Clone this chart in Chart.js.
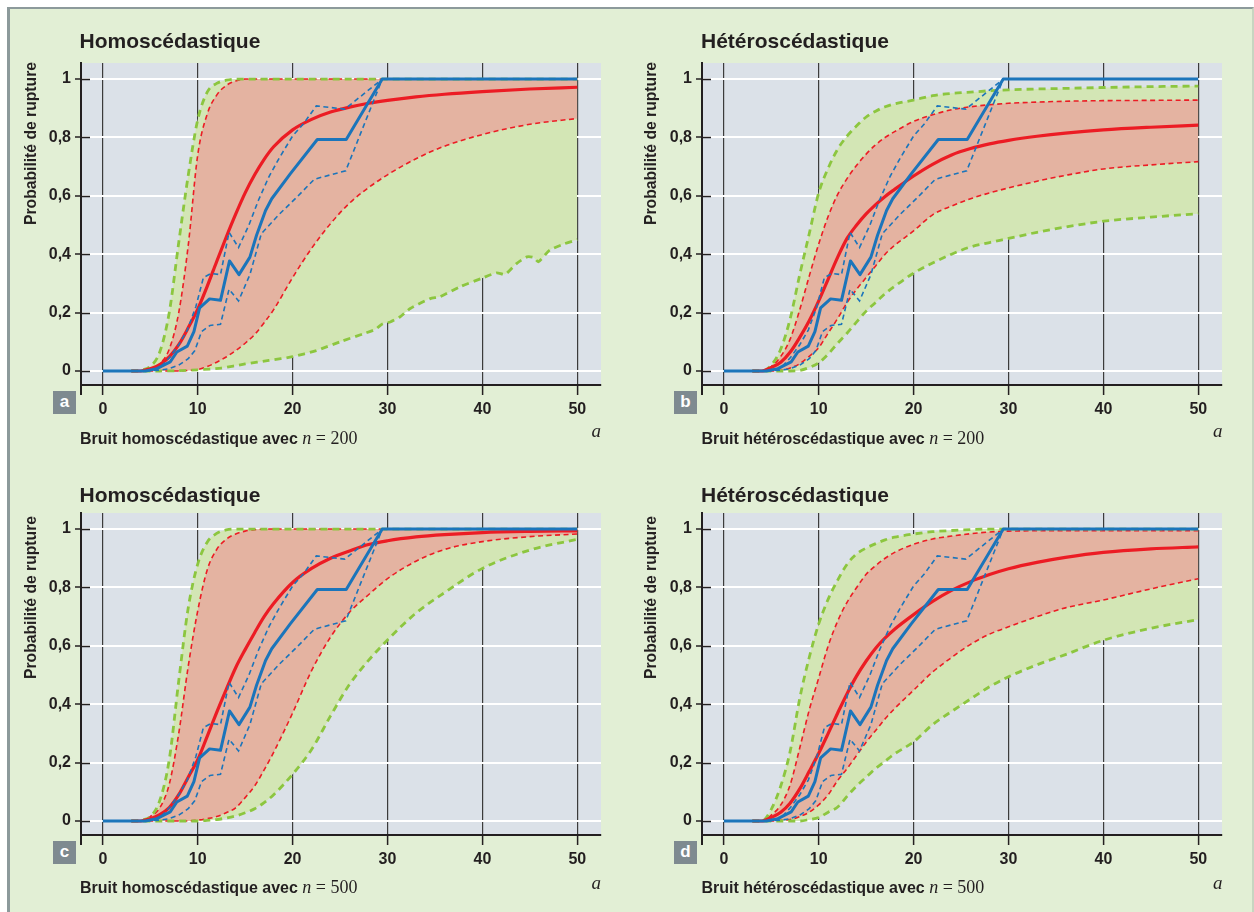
<!DOCTYPE html>
<html lang="fr">
<head>
<meta charset="utf-8">
<title>Probabilité de rupture</title>
<script src="https://cdn.jsdelivr.net/npm/chart.js@4.4.1/dist/chart.umd.min.js"></script>
<style>
  html,body{margin:0;padding:0;background:#fff;}
  body{position:relative;width:1254px;height:912px;overflow:hidden;font-family:"Liberation Sans",Arial,Helvetica,sans-serif;color:#231f20;}
  #frame{position:absolute;left:7px;top:7px;width:1242px;height:920px;background:#e2efd5;border-left:3px solid #8c9a9b;border-top:2px solid #8c9a9b;border-right:2px solid #c8d5c1;}
  canvas{position:absolute;}
  .txt{position:absolute;white-space:nowrap;}
  .title{font-weight:bold;font-size:21px;line-height:21px;}
  .ytitle{font-weight:bold;font-size:15.7px;line-height:16px;transform:rotate(-90deg);transform-origin:0 0;}
  .xtitle{font-weight:bold;font-size:16px;line-height:20px;}
  .math{font-family:"Liberation Serif","Times New Roman",serif;font-weight:normal;font-size:18px;}
  .math i{font-style:italic;}
  .avar{font-family:"Liberation Serif","Times New Roman",serif;font-style:italic;font-size:19px;line-height:20px;text-align:right;width:30px;}
  .tag{position:absolute;width:23px;height:23px;background:#7e8a90;color:#fff;font-weight:bold;font-size:17px;line-height:21px;text-align:center;}
</style>
</head>
<body>
<div id="frame"></div>
<script>
// ---------- data ----------
const TICKS_X = [0, 10, 20, 30, 40, 50];
const TICKS_Y = [0, 0.2, 0.4, 0.6, 0.8, 1];

// common abscissa grid for the model curves (a)
const X = [3,4,5,6,7,8,9,10,11,12,13,14,15,16,17,18,20,22,24,26,28,30,33,36,40,45,50];

// empirical curve (blue), identical in the four panels
const BLUE_X   = [0,4.5,5.7,7.1,7.8,8.9,9.6,10.2,11.25,12.4,13.35,14.35,15.5,16.2,17.15,17.8,19.75,22.6,25.65,29.45,50];
const BLUE_MID = [0,0,0.008,0.031,0.065,0.085,0.135,0.216,0.247,0.242,0.377,0.33,0.39,0.465,0.55,0.59,0.675,0.793,0.793,1,1];
const BLUE_HI_X = [4.5,6,7,8,8.9,9.8,10.6,11.4,12.4,13.3,14.3,15.4,16.4,17.5,18.6,20,21.1,22.5,25.5,29.45];
const BLUE_HI   = [0,0.01,0.045,0.09,0.14,0.22,0.32,0.334,0.33,0.475,0.423,0.5,0.585,0.665,0.73,0.805,0.845,0.908,0.897,1];
const BLUE_LO_X = [4.5,6,7,8,9,9.7,10.4,11.3,12.4,13.3,14.3,15.5,16.7,18.6,20.4,22.3,25.6,29.45];
const BLUE_LO   = [0,0.003,0.008,0.02,0.042,0.07,0.135,0.156,0.16,0.28,0.24,0.33,0.47,0.537,0.594,0.657,0.686,1];

// panel a : homoscédastique, n = 200
const A_RED_MID = [0,0,0.008,0.022,0.048,0.09,0.148,0.212,0.29,0.375,0.458,0.537,0.61,0.672,0.725,0.768,0.826,0.862,0.887,0.904,0.917,0.927,0.939,0.948,0.957,0.966,0.972];
const A_RED_HI  = [0,0,0.006,0.025,0.075,0.2,0.43,0.74,0.88,0.945,0.978,0.993,1,1,1,1,1,1,1,1,1,1,1,1,1,1,1];
const A_RED_LO  = [0,0,0,0,0,0,0.002,0.005,0.015,0.03,0.048,0.07,0.095,0.125,0.165,0.21,0.32,0.42,0.505,0.575,0.628,0.672,0.727,0.77,0.81,0.845,0.865];
const A_GREEN_HI = [0,0.003,0.015,0.065,0.2,0.44,0.67,0.86,0.955,0.985,0.996,1,1,1,1,1,1,1,1,1,1,1,1,1,1,1,1];
const A_GREEN_LO_X = [3,6,8,10,12.5,15,17.5,20,22.5,25,27.5,28.7,29.5,30.3,31.3,32.4,34.5,35.5,37.6,39.9,41.5,42.4,43.6,44.7,45.4,45.9,47.1,48.5,50];
const A_GREEN_LO   = [0,0,0.001,0.004,0.01,0.024,0.036,0.049,0.07,0.1,0.128,0.142,0.162,0.168,0.185,0.214,0.248,0.254,0.288,0.317,0.336,0.331,0.368,0.391,0.389,0.374,0.414,0.434,0.45];

// panel b : hétéroscédastique, n = 200
const B_RED_MID = [0,0,0.012,0.03,0.065,0.115,0.172,0.24,0.315,0.39,0.455,0.5,0.538,0.57,0.598,0.622,0.668,0.708,0.74,0.762,0.778,0.79,0.804,0.815,0.826,0.835,0.842];
const B_RED_HI  = [0,0,0.015,0.05,0.11,0.21,0.325,0.435,0.53,0.605,0.66,0.705,0.743,0.775,0.8,0.82,0.855,0.878,0.895,0.905,0.912,0.917,0.921,0.924,0.926,0.927,0.928];
const B_RED_LO  = [0,0,0,0.002,0.01,0.025,0.05,0.08,0.13,0.18,0.235,0.28,0.32,0.36,0.4,0.43,0.48,0.535,0.565,0.59,0.61,0.627,0.65,0.67,0.692,0.706,0.717];
const B_GREEN_HI = [0,0,0.02,0.075,0.18,0.33,0.47,0.61,0.695,0.76,0.805,0.84,0.87,0.89,0.905,0.915,0.928,0.943,0.951,0.955,0.96,0.963,0.966,0.968,0.971,0.974,0.976];
const B_GREEN_LO = [0,0,0,0,0,0.002,0.012,0.028,0.058,0.095,0.13,0.168,0.205,0.235,0.265,0.29,0.335,0.37,0.4,0.425,0.44,0.454,0.475,0.493,0.513,0.527,0.539];

// panel c : homoscédastique, n = 500
const C_RED_MID = [0,0,0.008,0.022,0.046,0.09,0.15,0.21,0.29,0.372,0.45,0.525,0.587,0.645,0.7,0.745,0.817,0.865,0.9,0.925,0.947,0.96,0.973,0.981,0.988,0.992,0.994];
const C_RED_HI  = [0,0,0.015,0.045,0.126,0.3,0.53,0.72,0.86,0.93,0.965,0.983,0.993,0.998,1,1,1,1,1,1,1,1,1,1,1,1,1];
const C_RED_LO  = [0,0,0,0,0,0,0,0.003,0.008,0.015,0.028,0.045,0.08,0.12,0.175,0.235,0.37,0.515,0.63,0.715,0.775,0.83,0.89,0.93,0.957,0.974,0.983];
const C_GREEN_HI = [0,0.003,0.015,0.07,0.21,0.48,0.73,0.88,0.955,0.985,0.997,1,1,1,1,1,1,1,1,1,1,1,1,1,1,1,1];
const C_GREEN_LO = [0,0,0,0,0,0,0,0,0.002,0.005,0.01,0.017,0.028,0.042,0.063,0.09,0.16,0.245,0.36,0.468,0.55,0.62,0.712,0.782,0.865,0.928,0.965];

// panel d : hétéroscédastique, n = 500
const D_RED_MID = [0,0,0.012,0.03,0.062,0.11,0.17,0.232,0.3,0.37,0.437,0.497,0.548,0.592,0.627,0.657,0.707,0.752,0.79,0.82,0.844,0.864,0.886,0.903,0.92,0.932,0.939];
const D_RED_HI  = [0,0,0.02,0.055,0.125,0.25,0.38,0.49,0.6,0.685,0.75,0.8,0.845,0.875,0.9,0.92,0.948,0.966,0.976,0.984,0.99,0.993,0.994,0.994,0.994,0.994,0.994];
const D_RED_LO  = [0,0,0,0.002,0.005,0.015,0.03,0.055,0.09,0.139,0.18,0.225,0.27,0.31,0.35,0.385,0.448,0.51,0.56,0.605,0.64,0.665,0.7,0.73,0.757,0.795,0.83];
const D_GREEN_HI = [0,0,0.04,0.12,0.24,0.42,0.56,0.675,0.76,0.825,0.88,0.915,0.935,0.95,0.963,0.972,0.983,0.991,0.995,0.998,1,1,1,1,1,1,1];
const D_GREEN_LO = [0,0,0,0,0,0,0.005,0.012,0.03,0.048,0.085,0.12,0.15,0.18,0.205,0.23,0.271,0.33,0.375,0.418,0.46,0.494,0.535,0.57,0.619,0.66,0.69];

const TITLES = ['Homoscédastique', 'Hétéroscédastique', 'Homoscédastique', 'Hétéroscédastique'];
const XLABELS = ['Bruit homoscédastique avec', 'Bruit hétéroscédastique avec', 'Bruit homoscédastique avec', 'Bruit hétéroscédastique avec'];
const N_VALUES = ['200', '200', '500', '500'];
const TAGS = ['a', 'b', 'c', 'd'];
const Y_TITLE = 'Probabilité de rupture';

// ---------- styles ----------
const INK = '#231f20';
const PLOT_BG = '#dbe1e8';
const RED = '#ec1c24';
const RED_FILL = '#e4b3a1';
const GREEN = '#8cc63f';
const GREEN_FILL = '#d3e6b5';
const BLUE = '#1b75bb';
const FONT = "'Liberation Sans', Arial, sans-serif";

const pts = (xs, ys) => xs.map((x, i) => ({x: x, y: ys[i]}));

const PANELS = [
  {ox: 0,   oy: 0,   rMid: A_RED_MID, rHi: A_RED_HI, rLo: A_RED_LO, gHi: A_GREEN_HI, gLo: A_GREEN_LO, gLoX: A_GREEN_LO_X},
  {ox: 621, oy: 0,   rMid: B_RED_MID, rHi: B_RED_HI, rLo: B_RED_LO, gHi: B_GREEN_HI, gLo: B_GREEN_LO},
  {ox: 0,   oy: 450, rMid: C_RED_MID, rHi: C_RED_HI, rLo: C_RED_LO, gHi: C_GREEN_HI, gLo: C_GREEN_LO},
  {ox: 621, oy: 450, rMid: D_RED_MID, rHi: D_RED_HI, rLo: D_RED_LO, gHi: D_GREEN_HI, gLo: D_GREEN_LO}
];

const deco = {
  id: 'deco',
  beforeDraw(chart) {
    const a = chart.chartArea, ctx = chart.ctx;
    ctx.save();
    ctx.fillStyle = PLOT_BG;
    ctx.fillRect(a.left, a.top, a.right - a.left, a.bottom - a.top);
    ctx.restore();
  },
  afterDraw(chart) {
    const a = chart.chartArea, ctx = chart.ctx, y = chart.scales.y;
    ctx.save();
    ctx.strokeStyle = INK;
    ctx.lineWidth = 2;
    ctx.beginPath();
    ctx.moveTo(a.left, a.bottom);
    ctx.lineTo(a.left, a.bottom + 10);
    ctx.stroke();
    ctx.lineWidth = 1.5;
    ctx.beginPath();
    y.ticks.forEach(t => {
      const py = Math.round(y.getPixelForValue(t.value)) + 0.5;
      ctx.moveTo(a.left, py);
      ctx.lineTo(a.left + 9, py);
    });
    ctx.stroke();
    ctx.restore();
  }
};

function buildChart(canvas, P) {
  const mono = {cubicInterpolationMode: 'monotone'};
  const gLoX = P.gLoX || X;
  const gLoCurve = P.gLoX ? {tension: 0.2} : mono;
  const hidden = {borderWidth: 0, borderColor: 'transparent', fill: false};
  const datasets = [
    Object.assign({}, hidden, gLoCurve, {data: pts(gLoX, P.gLo), order: 20}),
    Object.assign({}, hidden, mono, {data: pts(X, P.gHi), order: 20, fill: {target: 0}, backgroundColor: GREEN_FILL}),
    Object.assign({}, hidden, mono, {data: pts(X, P.rLo), order: 19}),
    Object.assign({}, hidden, mono, {data: pts(X, P.rHi), order: 19, fill: {target: 2}, backgroundColor: RED_FILL}),
    Object.assign({}, mono, {data: pts(X, P.rLo), borderColor: RED, borderWidth: 1.6, borderDash: [5, 3.5], order: 10, fill: false}),
    Object.assign({}, mono, {data: pts(X, P.rHi), borderColor: RED, borderWidth: 1.6, borderDash: [5, 3.5], order: 10, fill: false}),
    Object.assign({}, gLoCurve, {data: pts(gLoX, P.gLo), borderColor: GREEN, borderWidth: 2.8, borderDash: [7, 5], order: 9, fill: false}),
    Object.assign({}, mono, {data: pts(X, P.gHi), borderColor: GREEN, borderWidth: 2.8, borderDash: [7, 5], order: 9, fill: false}),
    Object.assign({}, mono, {data: pts(X, P.rMid), borderColor: RED, borderWidth: 3.2, order: 8, fill: false}),
    {data: pts(BLUE_LO_X, BLUE_LO), borderColor: BLUE, borderWidth: 1.6, borderDash: [5, 3.5], order: 7, tension: 0, fill: false},
    {data: pts(BLUE_HI_X, BLUE_HI), borderColor: BLUE, borderWidth: 1.6, borderDash: [5, 3.5], order: 7, tension: 0, fill: false},
    {data: pts(BLUE_X, BLUE_MID), borderColor: BLUE, borderWidth: 3, order: 6, tension: 0, fill: false, borderJoinStyle: 'round'}
  ];
  return new Chart(canvas, {
    type: 'line',
    data: {datasets: datasets},
    plugins: [deco],
    options: {
      responsive: false,
      animation: false,
      devicePixelRatio: 1,
      events: [],
      elements: {point: {radius: 0}},
      layout: {padding: {left: 0, top: 63, right: 20, bottom: 0}},
      plugins: {
        legend: {display: false},
        tooltip: {enabled: false},
        filler: {drawTime: 'beforeDatasetsDraw', propagate: false}
      },
      scales: {
        x: {
          type: 'linear', min: -2.3, max: 52.5,
          afterBuildTicks: s => { s.ticks = TICKS_X.map(v => ({value: v})); },
          afterFit: s => { s.height = 65; },
          grid: {color: '#3b3b3b', lineWidth: 1.2, drawTicks: true, tickLength: 10, tickColor: INK, tickWidth: 1.5, z: -2},
          border: {display: true, color: INK, width: 2},
          ticks: {color: INK, padding: 5, autoSkip: false, maxRotation: 0, font: {family: FONT, size: 16, weight: 'bold'}}
        },
        y: {
          type: 'linear', min: -0.048, max: 1.055,
          afterBuildTicks: s => { s.ticks = TICKS_Y.map(v => ({value: v})); },
          afterFit: s => { s.width = 81; },
          grid: {color: '#ffffff', lineWidth: 2, drawTicks: true, tickLength: 6, tickColor: INK, tickWidth: 1.5, z: -1},
          border: {display: true, color: INK, width: 2},
          ticks: {
            color: INK, padding: 4, font: {family: FONT, size: 16, weight: 'bold'},
            callback: v => (v === 0 ? '0' : v === 1 ? '1' : String(v).replace('.', ','))
          }
        }
      }
    }
  });
}

function addDiv(cls, html, style) {
  const d = document.createElement('div');
  d.className = cls;
  d.innerHTML = html;
  Object.assign(d.style, style);
  document.body.appendChild(d);
  return d;
}

PANELS.forEach((P, i) => {
  const cv = document.createElement('canvas');
  cv.width = 621; cv.height = 450;
  cv.style.left = P.ox + 'px'; cv.style.top = P.oy + 'px';
  cv.style.width = '621px'; cv.style.height = '450px';
  document.body.appendChild(cv);
  buildChart(cv, P);

  const row = P.oy > 0 ? 1 : 0;
  const col = P.ox > 0 ? 1 : 0;
  addDiv('txt title', TITLES[i], {left: (col ? 701 : 79.5) + 'px', top: (row ? 484 : 29.5) + 'px'});
  addDiv('txt ytitle', Y_TITLE, {left: (col ? 642.5 : 22.8) + 'px', top: (row ? 678.5 : 225) + 'px'});
  addDiv('txt xtitle', XLABELS[i] + ' <span class="math"><i>n</i> = ' + N_VALUES[i] + '</span>',
         {left: (col ? 701.5 : 80) + 'px', top: (row ? 876.5 : 427.5) + 'px'});
  addDiv('txt avar', 'a', {left: ((col ? 1222.5 : 601) - 30) + 'px', top: (row ? 873 : 420.6) + 'px'});
  addDiv('tag', TAGS[i], {left: (col ? 674 : 53) + 'px', top: (row ? 840.5 : 390.5) + 'px'});
});
</script>
</body>
</html>
